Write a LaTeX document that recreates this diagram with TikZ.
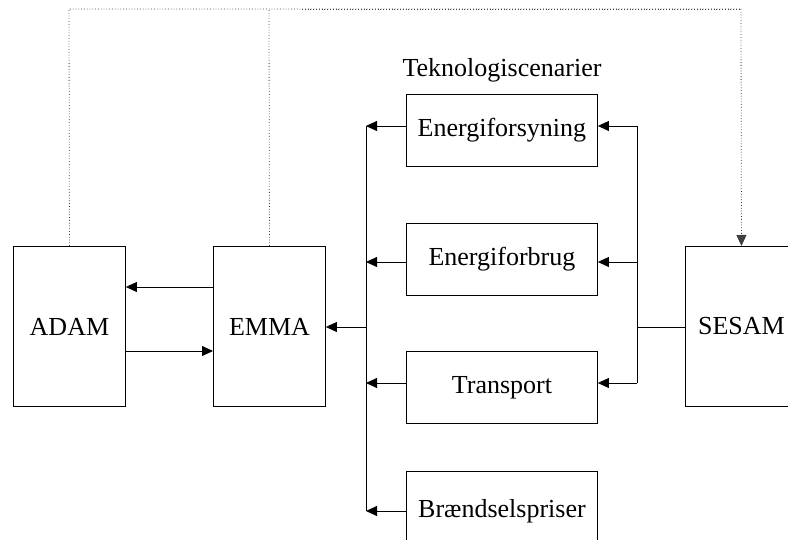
\documentclass[tikz,border=0pt]{standalone}
\usepackage{fontspec}
\setmainfont{Liberation Serif}
\usetikzlibrary{arrows.meta}
\begin{document}
\begin{tikzpicture}[x=1pt,y=-1pt,
  box/.style={draw=black, line width=0.9pt, fill=white, inner sep=0pt, anchor=north west,
    font=\fontsize{26}{30}\selectfont},
  bigbox/.style={box, minimum width=112pt, minimum height=160pt},
  techbox/.style={box, minimum width=191pt, minimum height=72pt},
  tip/.style={-{Triangle[length=11pt,width=10pt]}},
  conn/.style={line width=0.9pt, tip},
  plain/.style={line width=0.9pt},
  dots/.style={line width=0.8pt, draw=black!75, dotted},
  lbl/.style={font=\fontsize{26}{30}\selectfont, inner sep=0pt}]
\useasboundingbox (0,0) rectangle (788,540);
\clip (0,0) rectangle (788,540);
% main boxes
\node[bigbox] (adam) at (13,246) {ADAM};
\node[bigbox] (emma) at (213,246) {EMMA};
\node[bigbox] (sesam) at (685,246) {SESAM};
% technology boxes
\node[lbl] (title) at (502,70) {Teknologiscenarier};
\node[techbox] (ef) at (406,94) {Energiforsyning};
\node[techbox] (eb) at (406,223) {Energiforbrug};
\node[techbox] (tr) at (406,351) {Transport};
\node[techbox, minimum height=80pt] (bp) at (406,471) {Brændselspriser};
% bus coordinates
\coordinate (lb1) at (366,126);
\coordinate (lb2) at (366,262);
\coordinate (lb3) at (366,383);
\coordinate (lb4) at (366,511);
\coordinate (lbm) at (366,327);
\coordinate (rb1) at (637,126);
\coordinate (rb2) at (637,262);
\coordinate (rb3) at (637,383);
\coordinate (rbm) at (637,327);
% ADAM <-> EMMA
\draw[conn] (emma.west |- 0,287) -- (adam.east |- 0,287);
\draw[conn] (adam.east |- 0,351) -- (emma.west |- 0,351);
% left bus
\draw[plain] (lb1) -- (lb4);
\draw[conn] (ef.west |- lb1) -- (lb1);
\draw[conn] (eb.west |- lb2) -- (lb2);
\draw[conn] (tr.west |- lb3) -- (lb3);
\draw[conn] (bp.west |- lb4) -- (lb4);
\draw[conn] (lbm) -- (emma.east |- lbm);
% right bus
\draw[plain] (rb1) -- (rb3);
\draw[plain] (sesam.west |- rbm) -- (rbm);
\draw[conn] (rb1) -- (ef.east |- rb1);
\draw[conn] (rb2) -- (eb.east |- rb2);
\draw[conn] (rb3) -- (tr.east |- rb3);
% dotted feedback lines
\coordinate (top1) at (69,9);
\coordinate (top2) at (269,9);
\coordinate (top3) at (741,9);
\draw[dots] (adam.north) -- (top1) -- (top3);
\draw[dots] (emma.north) -- (top2);
\draw[dots] (302,9) -- (top3);
\draw[dots, tip] (top3) -- (sesam.north);
\end{tikzpicture}
\end{document}
